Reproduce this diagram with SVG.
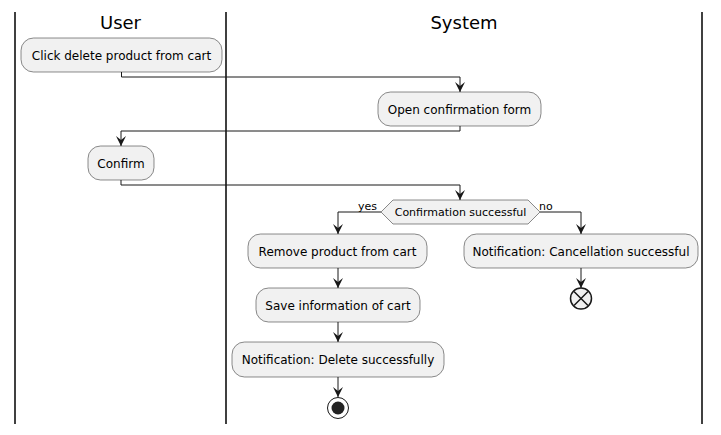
<svg xmlns="http://www.w3.org/2000/svg" width="721" height="435" viewBox="0 0 721 435">
<defs>
<style>
.lane{stroke:#000;stroke-width:1.5;fill:none}
.title{font-family:"DejaVu Sans",sans-serif;font-size:18px;fill:#000;text-anchor:middle}
.act rect{fill:#F1F1F1;stroke:#181818;stroke-width:0.5}
.act text{font-family:"DejaVu Sans",sans-serif;font-size:12px;fill:#000;text-anchor:middle}
.dec polygon{fill:#F1F1F1;stroke:#181818;stroke-width:0.5}
.dec text{font-family:"DejaVu Sans",sans-serif;font-size:11px;fill:#000;text-anchor:middle}
.lbl{font-family:"DejaVu Sans",sans-serif;font-size:11px;fill:#000}
.conn path{fill:none;stroke:#181818;stroke-width:1;marker-end:url(#ah)}
</style>
<marker id="ah" viewBox="0 0 10 10" refX="10" refY="5" markerWidth="10" markerHeight="10" markerUnits="userSpaceOnUse" orient="auto">
<polygon points="10,5 0,0 4,5 0,10" fill="#181818"/>
</marker>
</defs>
<rect width="721" height="435" fill="#FFFFFF"/>
<g id="lanes">
<line class="lane" x1="15" y1="12" x2="15" y2="424"/>
<line class="lane" x1="226" y1="12" x2="226" y2="424"/>
<line class="lane" x1="702" y1="12" x2="702" y2="424"/>
<text class="title" x="120.5" y="29">User</text>
<text class="title" x="464" y="29">System</text>
</g>
<g class="conn" id="connectors">
<path d="M121.5,72 V77 H460 V92"/>
<path d="M460,126 V131 H121 V146"/>
<path d="M121,180 V185 H460 V200"/>
<path d="M381,212 H338 V234"/>
<path d="M540,212 H581 V234"/>
<path d="M338,268 V288"/>
<path d="M338,322 V342"/>
<path d="M338,377 V397"/>
<path d="M581,268 V288"/>
<text class="lbl" x="358" y="210">yes</text>
<text class="lbl" x="539" y="210">no</text>
</g>
<g id="n1" class="act"><rect x="21" y="38" width="201" height="34" rx="12.5"/><text x="121.5" y="59.5">Click delete product from cart</text></g>
<g id="n2" class="act"><rect x="378" y="92" width="163" height="34" rx="12.5"/><text x="459.5" y="113.5">Open confirmation form</text></g>
<g id="n3" class="act"><rect x="88" y="146" width="66" height="34" rx="12.5"/><text x="121" y="167.5">Confirm</text></g>
<g id="d1" class="dec"><polygon points="381,212 393,200 528,200 540,212 528,224 393,224"/><text x="460.5" y="216">Confirmation successful</text></g>
<g id="n4" class="act"><rect x="248" y="234" width="179" height="34" rx="12.5"/><text x="337.5" y="255.5">Remove product from cart</text></g>
<g id="n5" class="act"><rect x="464" y="234" width="234" height="34" rx="12.5"/><text x="581" y="255.5">Notification: Cancellation successful</text></g>
<g id="n6" class="act"><rect x="256" y="288" width="164" height="34" rx="12.5"/><text x="338" y="309.5">Save information of cart</text></g>
<g id="n7" class="act"><rect x="232" y="342" width="212" height="35" rx="12.5"/><text x="338" y="364">Notification: Delete successfully</text></g>
<g id="endX">
<circle cx="581" cy="298.5" r="10.5" fill="#F1F1F1" stroke="#181818" stroke-width="1.5"/>
<path d="M574,291.5 L588,305.5 M588,291.5 L574,305.5" stroke="#181818" stroke-width="1.5"/>
</g>
<g id="stop">
<circle cx="338" cy="408" r="10.5" fill="none" stroke="#181818" stroke-width="1"/>
<circle cx="338" cy="408" r="6.5" fill="#222222"/>
</g>
</svg>
